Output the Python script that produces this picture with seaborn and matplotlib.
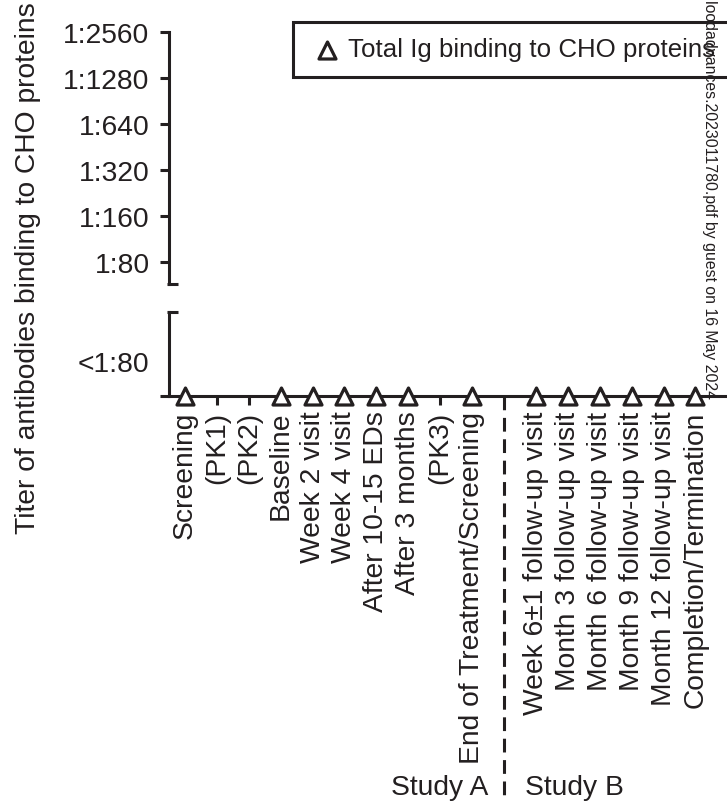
import matplotlib
matplotlib.use("Agg")
import matplotlib.pyplot as plt
import seaborn as sns
import pandas as pd
import numpy as np
from matplotlib.transforms import blended_transform_factory

# ---------------- data ----------------
visits = ["Screening", "(PK1)", "(PK2)", "Baseline", "Week 2 visit", "Week 4 visit",
          "After 10-15 EDs", "After 3 months", "(PK3)", "End of Treatment/Screening",
          "",
          "Week 6\u00b11 follow-up visit", "Month 3 follow-up visit", "Month 6 follow-up visit",
          "Month 9 follow-up visit", "Month 12 follow-up visit", "Completion/Termination"]
# titer level: 0 = "<1:80"; None = no sample at that visit
titer = [0, None, None, 0, 0, 0, 0, 0, None, 0, None, 0, 0, 0, 0, 0, 0]
titer_ticks = ["1:80", "1:160", "1:320", "1:640", "1:1280", "1:2560"]
below_label = "<1:80"
series_label = "Total Ig binding to CHO proteins"
ylabel = "Titer of antibodies binding to CHO proteins"
study_labels = ["Study A", "Study B"]
watermark = "loodadvances.2023011780.pdf by guest on 16 May 2024"

df = pd.DataFrame({"pos": np.arange(len(visits)), "titer": titer}).dropna()

# ---------------- style ----------------
sns.set_theme(style="white")
plt.rcParams["font.family"] = ["Liberation Sans", "DejaVu Sans"]
INK = "#231f20"
FS = 20.3
LEG_FS = 18.6
LW = 2.2

W, H = 727, 803
fig = plt.figure(figsize=(W / 100, H / 100), dpi=100)

def fx(px):
    return px / W

def fy(py):
    return 1 - py / H

x_left_px, x_right_px = 169, 727
ax_up = fig.add_axes([fx(x_left_px), fy(285), fx(x_right_px - x_left_px), (285 - 33.3) / H])
ax_lo = fig.add_axes([fx(x_left_px), fy(397), fx(x_right_px - x_left_px), (397 - 313) / H])

xlim = (-0.5, 16.99)
for ax in (ax_up, ax_lo):
    ax.set_xlim(*xlim)
    ax.set_facecolor("none")
    for s in ["top", "right"]:
        ax.spines[s].set_visible(False)
    ax.spines["left"].set_linewidth(LW)
    ax.spines["left"].set_color(INK)
    ax.tick_params(axis="both", which="major", direction="out", length=6.5, width=LW,
                   color=INK, labelsize=FS, labelcolor=INK, bottom=True, left=True)
    ax.tick_params(axis="y", which="major", pad=7.5)
    ax.tick_params(axis="x", which="major", pad=4)

# upper axis: titer scale
ax_up.spines["bottom"].set_visible(False)
ax_up.set_ylim(-0.47, len(titer_ticks) - 1)
ax_up.set_yticks(range(len(titer_ticks)))
ax_up.set_yticklabels(titer_ticks)
ax_up.set_xticks([])
ax_up.tick_params(axis="x", bottom=False)

# lower axis: below detection
ax_lo.set_ylim(0, 1)
ax_lo.spines["bottom"].set_linewidth(LW)
ax_lo.spines["bottom"].set_color(INK)
ax_lo.set_yticks([0])
ax_lo.set_yticklabels([""])
ax_lo.set_yticks([0.417], minor=True)
ax_lo.set_yticklabels([below_label], minor=True)
ax_lo.tick_params(axis="y", which="minor", left=True, length=0, labelsize=FS,
                  labelcolor=INK, pad=7.5 + 6.5)

xt = [i for i, v in enumerate(visits) if v != ""]
ax_lo.set_xticks(xt)
ax_lo.set_xticklabels([visits[i] for i in xt], rotation=90, ha="center", va="top")

sns.scatterplot(data=df, x="pos", y="titer", ax=ax_lo, marker="^", s=150,
                facecolor="white", edgecolor=INK, linewidth=2.3, zorder=5,
                clip_on=False, label=series_label, legend=False)
ax_lo.set_xlabel("")
ax_lo.set_ylabel("")

# axis-break caps
for ax, ypos in ((ax_up, 0.0), (ax_lo, 1.0)):
    tr = blended_transform_factory(fig.transFigure, ax.transAxes)
    ax.plot([fx(167), fx(178)], [ypos, ypos], transform=tr, color=INK, lw=LW,
            clip_on=False, solid_capstyle="butt")

# study separator
sep = visits.index("")
tr = blended_transform_factory(ax_lo.transData, ax_lo.transAxes)
ax_lo.plot([sep, sep], [0, (397 - 797) / 84], transform=tr, color=INK, lw=LW,
           ls=(0, (4.5, 2.5)), clip_on=False)
fig.text(fx(488), fy(788), study_labels[0], ha="right", va="center", fontsize=FS, color=INK)
fig.text(fx(525), fy(788), study_labels[1], ha="left", va="center", fontsize=FS, color=INK)

# y label
fig.text(fx(28), fy(268), ylabel, rotation=90, ha="center", va="center", fontsize=FS, color=INK)

# legend
h, l = ax_lo.get_legend_handles_labels()
leg = ax_up.legend(h, l, loc="upper left", bbox_to_anchor=(fx(293), fy(23)),
                   bbox_transform=fig.transFigure, borderaxespad=0, frameon=True,
                   fancybox=False, edgecolor=INK, framealpha=1, fontsize=LEG_FS,
                   handlelength=1.43, handletextpad=0.1, borderpad=0.6)
leg.get_frame().set_linewidth(LW)
for t in leg.get_texts():
    t.set_color(INK)

# watermark
fig.text(fx(709), 1.0, watermark, rotation=-90, ha="center", va="top", fontsize=11.4, color=INK)

fig.savefig("out.png", dpi=100)
